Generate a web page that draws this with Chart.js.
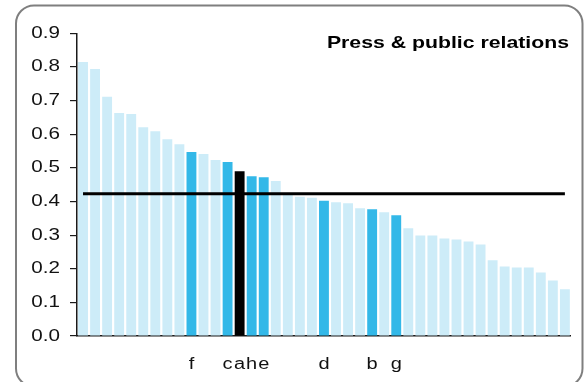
<!DOCTYPE html>
<html>
<head>
<meta charset="utf-8">
<script src="https://cdn.jsdelivr.net/npm/chart.js@4/dist/chart.umd.min.js"></script>
<style>
  html, body { margin: 0; padding: 0; background: #ffffff; }
  #wrap { width: 584px; height: 382px; position: relative; }
</style>
</head>
<body>
<div id="wrap"><canvas id="c" width="584" height="382"></canvas></div>
<script>
// ---- data ----
const categories = ["", "", "", "", "", "", "", "", "", "f",
                    "", "", "c", "a", "h", "e", "", "", "", "",
                    "d", "", "", "", "b", "", "g", "", "", "",
                    "", "", "", "", "", "", "", "", "", "", ""];
const values = [0.815, 0.794, 0.711, 0.663, 0.660, 0.621, 0.609, 0.585, 0.570, 0.547,
                0.541, 0.523, 0.517, 0.490, 0.475, 0.472, 0.461, 0.420, 0.414, 0.411,
                0.402, 0.398, 0.395, 0.380, 0.377, 0.368, 0.359, 0.320, 0.299, 0.299,
                0.290, 0.287, 0.281, 0.272, 0.225, 0.207, 0.204, 0.204, 0.189, 0.165, 0.139];
const benchmark = 0.423;
const focusLabel = "a";
const yTicks = [0.0, 0.1, 0.2, 0.3, 0.4, 0.5, 0.6, 0.7, 0.8, 0.9];
const title = "Press & public relations";

// ---- styles ----
const LIGHT = "#cdecf8";
const BLUE = "#33b8e8";
const DARK = "#000000";
const FONT = "'Liberation Sans', Arial, Helvetica, sans-serif";
const TEXT_STRETCH = 1.25;

const barColors = categories.map(c => c === focusLabel ? DARK : (c ? BLUE : LIGHT));

const stretchText = {
  id: 'stretchText',
  beforeDraw(chart) {
    const ctx = chart.ctx;
    if (!ctx.__stretched) {
      const orig = ctx.fillText;
      ctx.fillText = function (t, x, y, mw) {
        this.save();
        this.translate(x, y);
        this.scale(TEXT_STRETCH, 1);
        if (mw === undefined) orig.call(this, t, 0, 0);
        else orig.call(this, t, 0, 0, mw / TEXT_STRETCH);
        this.restore();
      };
      ctx.__stretched = true;
    }
  }
};

const frameAndTitle = {
  id: 'frameAndTitle',
  beforeDraw(chart) {
    const ctx = chart.ctx;
    ctx.save();
    ctx.fillStyle = '#ffffff';
    ctx.fillRect(0, 0, chart.width, chart.height);
    ctx.strokeStyle = '#7f7f7f';
    ctx.lineWidth = 2;
    ctx.beginPath();
    ctx.roundRect(16, 5.5, 566.5, 381, 18);
    ctx.stroke();
    ctx.restore();
  },
  afterDraw(chart) {
    const ctx = chart.ctx;
    ctx.save();
    ctx.font = "bold 17px " + FONT;
    ctx.fillStyle = '#000000';
    ctx.textAlign = 'right';
    ctx.textBaseline = 'alphabetic';
    ctx.fillText(title, 569, 47.5);
    ctx.restore();
  }
};

new Chart(document.getElementById('c'), {
  data: {
    labels: categories,
    datasets: [
      {
        type: 'line',
        data: categories.map(() => benchmark),
        borderColor: '#000000',
        borderWidth: 3,
        pointRadius: 0,
        order: 0
      },
      {
        type: 'bar',
        data: values,
        backgroundColor: barColors,
        borderWidth: 0,
        categoryPercentage: 1.0,
        barPercentage: 0.82,
        order: 1
      }
    ]
  },
  options: {
    responsive: false,
    devicePixelRatio: 1,
    animation: false,
    layout: { padding: { left: 0, top: 33.3, right: 8.5, bottom: 0 } },
    plugins: { legend: { display: false }, tooltip: { enabled: false }, title: { display: false } },
    scales: {
      x: {
        type: 'category',
        offset: true,
        grid: { display: false, drawTicks: false },
        border: { display: true, color: '#1a1a1a', width: 1.5 },
        ticks: {
          autoSkip: false,
          maxRotation: 0,
          minRotation: 0,
          padding: 19,
          color: '#111111',
          font: { family: FONT, size: 16 }
        },
        afterFit(scale) { scale.height = 46; }
      },
      y: {
        min: 0,
        max: 0.9,
        afterBuildTicks(scale) { scale.ticks = yTicks.map(v => ({ value: v })); },
        grid: { display: true, drawOnChartArea: false, drawTicks: true, tickLength: 7, color: '#1a1a1a', lineWidth: 1.2 },
        border: { display: true, color: '#1a1a1a', width: 1.5 },
        ticks: {
          padding: 10,
          color: '#111111',
          font: { family: FONT, size: 16.5 },
          callback: v => Number(v).toFixed(1)
        },
        afterFit(scale) { scale.width = 77; }
      }
    }
  },
  plugins: [stretchText, frameAndTitle]
});
</script>
</body>
</html>
